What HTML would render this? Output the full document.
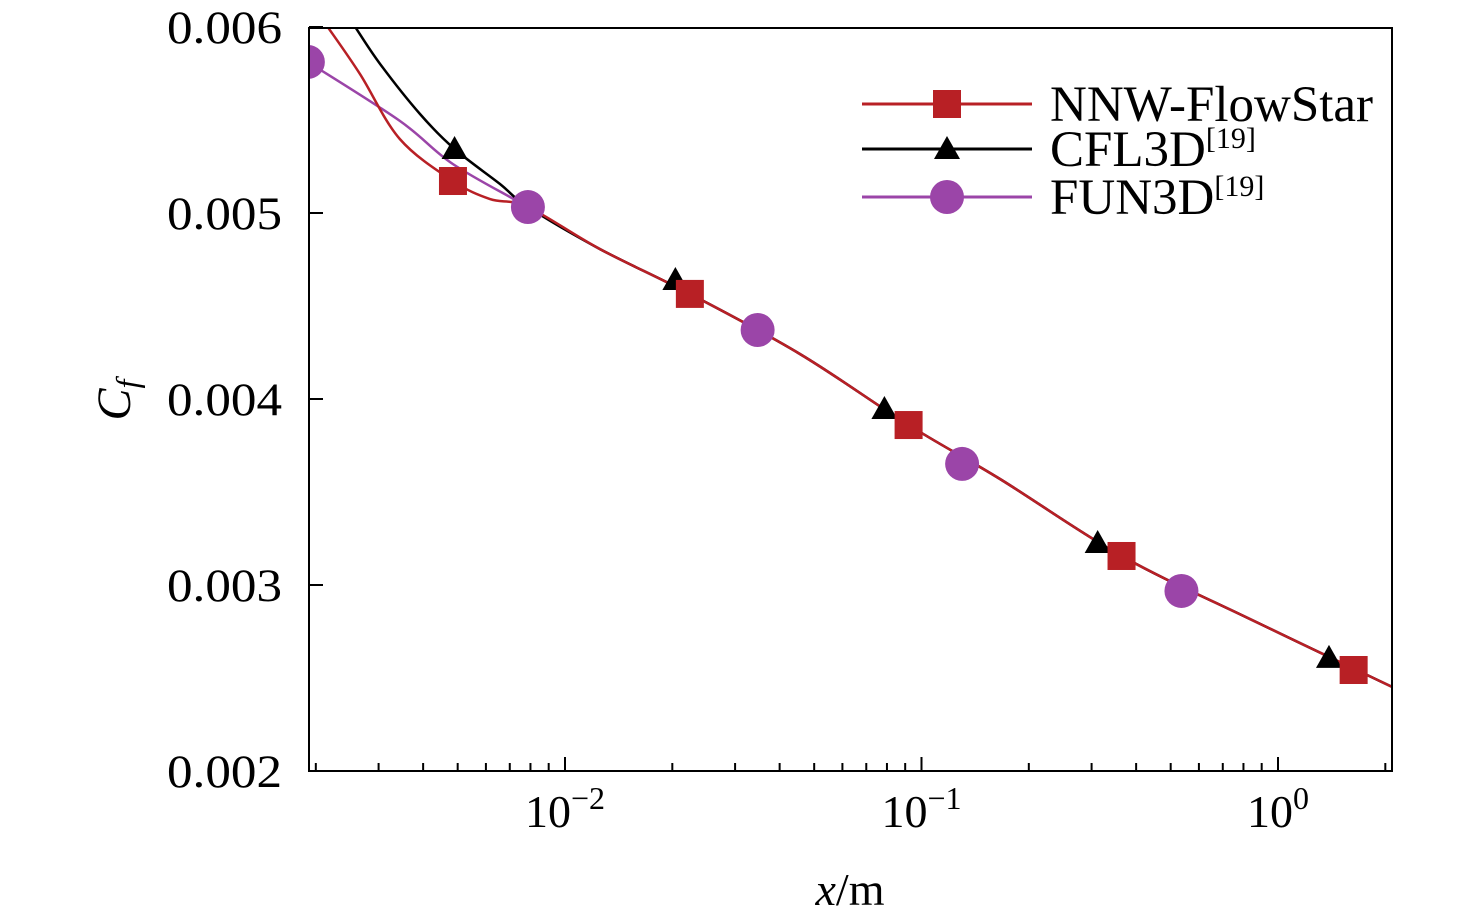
<!DOCTYPE html>
<html><head><meta charset="utf-8">
<style>
html,body{margin:0;padding:0;background:#fff;}
svg{display:block;font-family:"Liberation Serif",serif;}
</style></head>
<body>
<svg id="chart" width="1476" height="921" viewBox="0 0 1476 921">
<defs><clipPath id="clip"><rect x="309" y="28" width="1083" height="743"/></clipPath></defs>
<g id="plot" clip-path="url(#clip)"></g>
<g id="axes"></g>
<g id="legend"></g>
</svg>
<script>
const commonX=[0.00787,0.01254,0.0224,0.0456,0.092,0.166,0.364,0.834,2.09];
const commonY=[0.005032,0.004806,0.004565,0.004242,0.00386,0.00357,0.003156,0.002817,0.002452];
const nnwLineX=[0.00216,0.00266,0.00344,0.00485,0.00616];
const nnwLineY=[0.006,0.005747,0.005398,0.005172,0.005075];
const cflLineX=[0.00258,0.00303,0.00392,0.0049,0.00657];
const cflLineY=[0.006,0.005801,0.005532,0.005344,0.005156];
const funLineX=[0.0019,0.00344,0.00485];
const funLineY=[0.005812,0.005495,0.005263];
const nnwMarkX=[0.00485,0.0224,0.092,0.364,1.63];
const nnwMarkY=[0.005172,0.004565,0.00386,0.003156,0.002543];
const cflMarkX=[0.0049,0.0204,0.0787,0.312,1.39];
const cflMarkY=[0.005344,0.00464,0.003946,0.003226,0.002608];
const funMarkX=[0.0019,0.00787,0.0347,0.130,0.536];
const funMarkY=[0.005812,0.005032,0.004371,0.003651,0.002968];
const yTicks=[0.002,0.003,0.004,0.005,0.006];
const yTickLabels=["0.002","0.003","0.004","0.005","0.006"];
const xMajor=[-2,-1,0];
const xMajorLabels=["10","10","10"];
const xMajorExp=["\u22122","\u22121","0"];

const NS="http://www.w3.org/2000/svg";
const L=309,R=1392,T=28,B=771;
function sx(v){return 565+(Math.log10(v)+2)*356.5;}
function sy(v){return 771-(v-0.002)*186000;}
function mk(tag,attrs,parent){const e=document.createElementNS(NS,tag);for(const k in attrs)e.setAttribute(k,attrs[k]);parent.appendChild(e);return e;}
const plot=document.getElementById('plot'),axes=document.getElementById('axes'),legend=document.getElementById('legend');
function poly(xs,ys,color,name){
  const pts=xs.map((x,i)=>[sx(x),sy(ys[i])]);
  let d='M'+pts[0][0].toFixed(1)+','+pts[0][1].toFixed(1);
  for(let i=0;i<pts.length-1;i++){
    const p0=pts[Math.max(0,i-1)],p1=pts[i],p2=pts[i+1],p3=pts[Math.min(pts.length-1,i+2)];
    const c1=[p1[0]+(p2[0]-p0[0])/6,p1[1]+(p2[1]-p0[1])/6];
    const c2=[p2[0]-(p3[0]-p1[0])/6,p2[1]-(p3[1]-p1[1])/6];
    d+=` C${c1[0].toFixed(1)},${c1[1].toFixed(1)} ${c2[0].toFixed(1)},${c2[1].toFixed(1)} ${p2[0].toFixed(1)},${p2[1].toFixed(1)}`;
  }
  const p=mk('path',{d:d,fill:'none',stroke:color,'stroke-width':2.5},plot);
  
  
}
const RED='#b82025',BLK='#000',PUR='#9b45a8';
poly(funLineX.concat(commonX),funLineY.concat(commonY),PUR,'fun3d-line');
poly(cflLineX.concat(commonX),cflLineY.concat(commonY),BLK,'cfl3d-line');
poly(nnwLineX.concat(commonX),nnwLineY.concat(commonY),RED,'nnw-flowstar-line');
function square(cx,cy,parent){return mk('rect',{x:cx-14,y:cy-14,width:28,height:28,fill:RED},parent);}
function tri(cx,cy,parent){return mk('polygon',{points:`${cx},${cy-13} ${cx-13},${cy+10} ${cx+13},${cy+10}`,fill:BLK},parent);}
function circ(cx,cy,parent){return mk('circle',{cx:cx,cy:cy,r:17,fill:PUR},parent);}
cflMarkX.forEach((x,i)=>{const e=tri(sx(x),sy(cflMarkY[i]),plot);

});
nnwMarkX.forEach((x,i)=>{const e=square(sx(x),sy(nnwMarkY[i]),plot);

});
funMarkX.forEach((x,i)=>{const e=circ(sx(x),sy(funMarkY[i]),plot);

});

const fr=mk('rect',{x:L,y:T,width:R-L,height:B-T,fill:'none',stroke:'#000','stroke-width':2},axes);


yTicks.forEach((v,i)=>{const y=sy(v);
 mk('line',{x1:L,x2:L+14,y1:y,y2:y,stroke:'#000','stroke-width':2},axes);
 const t=mk('text',{x:L-27,y:y+16,'text-anchor':'end','font-size':47,textLength:115,lengthAdjust:'spacingAndGlyphs'},axes);t.textContent=yTickLabels[i];
 
 });
for(let d=-3;d<=0;d++){for(let m=1;m<=9;m++){const v=m*Math.pow(10,d);const x=sx(v);if(x<L||x>R)continue;
 const len=m===1?14:8;mk('line',{x1:x,x2:x,y1:B,y2:B-len,stroke:'#000','stroke-width':2},axes);}}
xMajor.forEach((d,i)=>{const x=sx(Math.pow(10,d));
 const t=mk('text',{x:x,y:B+56,'text-anchor':'middle','font-size':46},axes);
 
 
 const a=mk('tspan',{},t);a.textContent=xMajorLabels[i];
 const b=mk('tspan',{dy:-18,'font-size':32},t);b.textContent=xMajorExp[i];});
const xt=mk('text',{x:850,y:905,'text-anchor':'middle','font-size':46},axes);


xt.innerHTML='<tspan font-style="italic">x</tspan>/m';
const yt=mk('text',{x:0,y:0,'text-anchor':'middle','font-size':48,transform:'translate(130,400) rotate(-90)'},axes);


yt.innerHTML='<tspan font-style="italic">C</tspan><tspan font-style="italic" font-size="32" dy="8">f</tspan>';

const items=[['NNW-FlowStar','',RED,square,'legend-nnw-flowstar'],['CFL3D','[19]',BLK,tri,'legend-cfl3d'],['FUN3D','[19]',PUR,circ,'legend-fun3d']];
const ly=[104,149,197];
items.forEach((it,i)=>{const g=mk('g',{},legend);
 
 
 mk('line',{x1:862,x2:1032,y1:ly[i],y2:ly[i],stroke:it[2],'stroke-width':3},g);
 it[3](947,ly[i],g);
 const t=mk('text',{x:1050,y:ly[i]+17,'font-size':51},g);
 const a=mk('tspan',{},t);a.textContent=it[0];
 if(it[1]){const b=mk('tspan',{dy:-18,'font-size':30},t);b.textContent=it[1];}});
</script>
</body></html>
